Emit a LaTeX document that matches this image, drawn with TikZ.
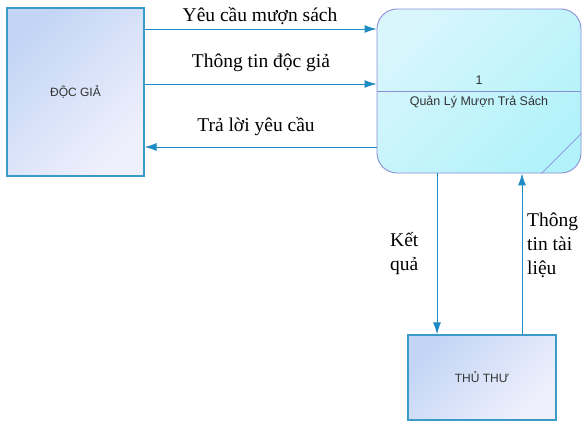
\documentclass[tikz,border=0pt]{standalone}
\usepackage{fontspec}
\setmainfont{Liberation Serif}
\newfontfamily\arialf{Liberation Sans}
\usetikzlibrary{arrows.meta,calc}
\definecolor{flowc}{HTML}{1E8BC3}
\definecolor{extborder}{HTML}{3A9AC8}
\definecolor{procborder}{HTML}{8A8ED6}
\definecolor{extdark}{HTML}{C2D5F5}
\definecolor{extlight}{HTML}{F0F0FC}
\definecolor{procdark}{HTML}{B2F2FA}
\definecolor{proclight}{HTML}{D8F6FC}
\tikzset{
  extbox/.style={draw=extborder, line width=1.1pt, top color=extdark, bottom color=extlight, shading angle=45,
    font=\arialf\fontsize{12}{14}\selectfont, text=black!80},
  procbox/.style={draw=procborder, line width=0.9pt, rounded corners=20pt, top color=proclight, bottom color=procdark, shading angle=45},
  flow/.style={draw=flowc, line width=1pt, -{Latex[length=12pt,width=8pt]}},
  lbl/.style={font=\fontsize{19.5}{24}\selectfont, inner sep=0pt},
  ptext/.style={font=\arialf\fontsize{12.5}{14}\selectfont, text=black!80, inner sep=0pt}
}
\begin{document}
\begin{tikzpicture}[x=1pt,y=-1pt]
\useasboundingbox[fill=white] (0,0) rectangle (585,423);
\node[extbox, minimum width=137pt, minimum height=168pt] (dg) at (75.5,92) {ĐỘC GIẢ};
\node[procbox, minimum width=204pt, minimum height=164pt] (p) at (479,91) {};
\draw[procborder, line width=0.8pt] (p.west) -- (p.east);
\draw[procborder, line width=0.8pt] ($(p.south east)+(-40,0)$) -- ($(p.south east)+(0,-40)$);
\node[ptext] (pid) at (479,80) {1};
\node[ptext] (pname) at (479,102) {Quản Lý Mượn Trả Sách};
\node[extbox, minimum width=148pt, minimum height=85pt] (tt) at (482,377.5) {THỦ THƯ};

\coordinate (a1) at (144,29);
\coordinate (a2) at (144,84);
\coordinate (a3) at (144,147);
\draw[flow] (dg.east |- a1) -- (p.west |- a1);
\draw[flow] (dg.east |- a2) -- (p.west |- a2);
\draw[flow] (p.west |- a3) -- (dg.east |- a3);
\node[lbl] (l1) at (260,16) {Yêu cầu mượn sách};
\node[lbl] (l2) at (261,63) {Thông tin độc giả};
\node[lbl] (l3) at (256,127) {Trả lời yêu cầu};

\coordinate (d1) at (437,0);
\coordinate (d2) at (522,0);
\draw[flow] (p.south -| d1) -- (tt.north -| d1);
\draw[flow] (tt.north -| d2) -- (p.south -| d2);
\node[lbl, align=left, anchor=north west] (l4) at (390,232) {Kết\\quả};
\node[lbl, align=left, anchor=north west] (l5) at (527,213) {Thông\\tin tài\\liệu};
\end{tikzpicture}
\end{document}
